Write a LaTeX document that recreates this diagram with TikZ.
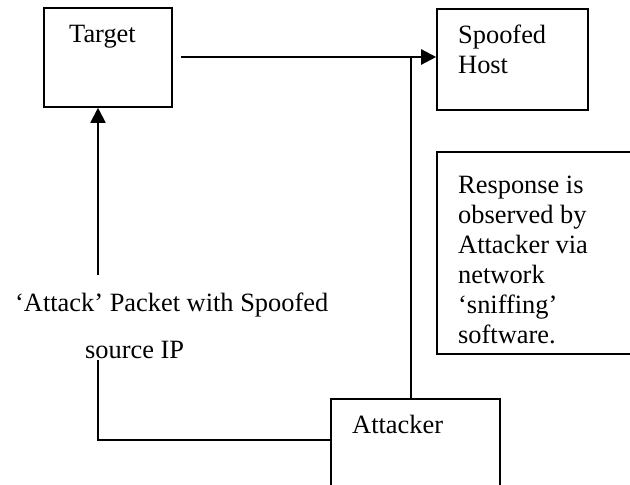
\documentclass[tikz,border=0pt]{standalone}
\usepackage{fontspec}
\setmainfont{Liberation Serif}
\usetikzlibrary{shapes, arrows, calc, positioning,arrows.meta}

\begin{document}
\begin{tikzpicture}[x=1pt,y=1pt,
    hostbox/.style={draw=black, line width=1.6pt, rectangle, inner sep=0pt},
    label/.style={anchor=base west, inner sep=0pt, align=left, font=\fontsize{26.4}{30}\selectfont},
    link/.style={line width=1.5pt},
    tip/.style={-{Triangle[length=15pt,width=15pt]}}]
    % page and clipping
    \clip (0,0) rectangle (630,485);

    % boxes
    \node[hostbox, minimum width=128pt, minimum height=99pt] (target) at (108,427.5) {};
    \node[hostbox, minimum width=151pt, minimum height=101pt] (spoofed) at (512.5,425.5) {};
    \node[hostbox, minimum width=169pt, minimum height=101pt] (attacker) at (415.5,35.5) {};
    \node[hostbox, minimum width=213pt, minimum height=202pt] (note) at (543.5,232) {};

    % texts (base = last line)
    \node[label] (targetText) at (69,442) {Target};
    \node[label] (spoofedText) at (458,411) {Spoofed\\Host};
    \node[label] (attackerText) at (352,51) {Attacker};
    \node[label] (noteText) at (458,141) {Response is\\observed by\\Attacker via\\network\\‘sniffing’\\software.};
    \node[label] (packetText) at (15,173) {‘Attack’ Packet with Spoofed};
    \node[label] (sourceText) at (85,126) {source IP};

    % connectors
    \coordinate (tap) at (411,428);
    \coordinate (pkt) at (98,210);
    \coordinate (src) at (98,125);
    \draw[line width=2.4pt, tip] ([xshift=8pt]target.east |- tap) -- (tap -| spoofed.west);
    \draw[line width=1.3pt] (tap) -- (tap |- attacker.north);
    \draw[line width=2pt, tip] (pkt) -- (pkt |- target.south);
    \draw[link] (src) |- ([yshift=9.5pt]attacker.west);
\end{tikzpicture}
\end{document}
